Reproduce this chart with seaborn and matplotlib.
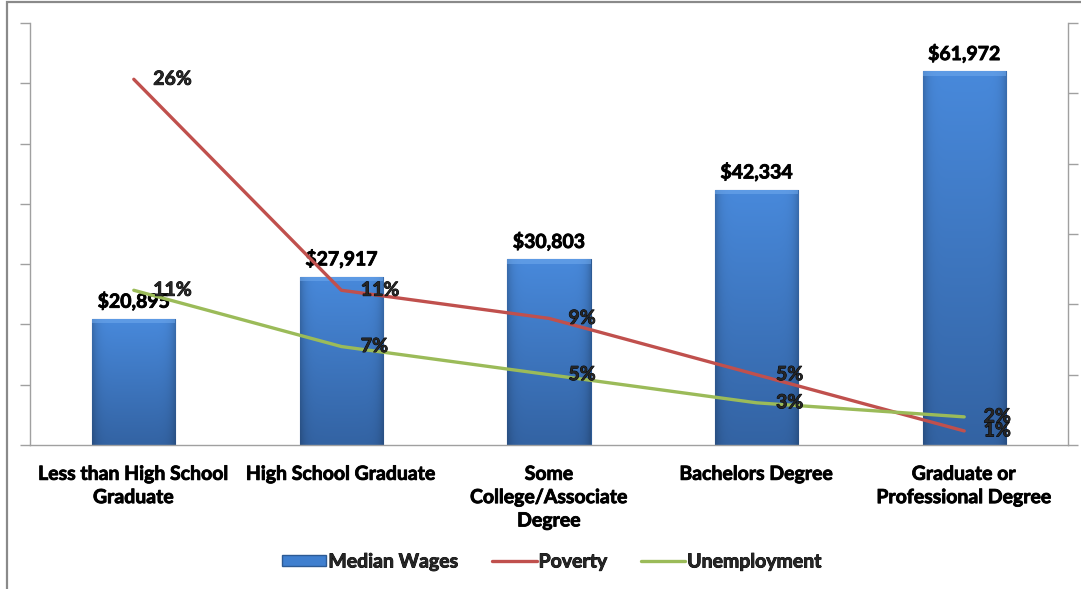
import numpy as np
import pandas as pd
import matplotlib
matplotlib.use("Agg")
import matplotlib.pyplot as plt
import seaborn as sns
from matplotlib.patches import Patch, Rectangle
from matplotlib.lines import Line2D
from matplotlib.colors import to_rgb
import matplotlib.patheffects as pe

categories = ["Less than High School\nGraduate", "High School Graduate",
              "Some\nCollege/Associate\nDegree", "Bachelors Degree",
              "Graduate or\nProfessional Degree"]
median_wages = [20895, 27917, 30803, 42334, 61972]
poverty = [26, 11, 9, 5, 1]
unemployment = [11, 7, 5, 3, 2]
wage_labels = ["$20,895", "$27,917", "$30,803", "$42,334", "$61,972"]

sns.set_theme(style="white")
plt.rcParams['font.family'] = ['Lato', 'DejaVu Sans']

FS = 14
W, H = 1081, 589
fig = plt.figure(figsize=(W / 100, H / 100), dpi=100)
ax = fig.add_axes([30 / W, (H - 445) / H, (1068 - 30) / W, (445 - 23) / H])

# slight stroke to mimic the heavier Calibri bold
thick = [pe.withStroke(linewidth=0.6, foreground="black")]

df = pd.DataFrame({"cat": categories, "wage": median_wages})
BLUE = "#3f7fcf"
RED = "#c0504d"
GREEN = "#9bbb59"
sns.barplot(data=df, x="cat", y="wage", ax=ax, color=BLUE, width=0.4,
            edgecolor="#2c5a94", linewidth=0.8, saturation=1)

# gradient fill for bars
top = np.array(to_rgb("#4889db"))
bot = np.array(to_rgb("#3363a3"))
ny, nx = 200, 60
t = np.linspace(0, 1, ny).reshape(-1, 1, 1)  # 0 bottom -> 1 top
col = bot + (top - bot) * t
xs = np.linspace(-1, 1, nx).reshape(1, -1, 1)
shade = 1 - 0.2 * np.abs(xs) ** 8
img = np.clip(col * shade, 0, 1)
for p in list(ax.patches):
    x0, y0, w, h = p.get_x(), p.get_y(), p.get_width(), p.get_height()
    im = ax.imshow(img, extent=[x0, x0 + w, y0, y0 + h], aspect="auto",
                   origin="lower", zorder=p.get_zorder() + 0.1, interpolation="bilinear")
    im.set_clip_path(p)
    ax.add_patch(Rectangle((x0, y0 + h - 700), w, 700, facecolor="#70aaee",
                           edgecolor="none", zorder=p.get_zorder() + 0.2, alpha=0.55))

ax.set_xlim(-0.5, 4.5)
ax.set_ylim(0, 70000)
ax.set_yticks(np.arange(0, 70001, 10000))
ax.set_yticklabels([])
ax.set_xticks(range(len(categories)))
ax.set_xticklabels(categories, fontsize=FS, fontweight="bold", linespacing=1.45)
for tl in ax.get_xticklabels():
    tl.set_path_effects(thick)
ax.set_xticks(np.arange(-0.5, 5, 1), minor=True)
ax.tick_params(axis="x", which="major", length=0, pad=15, colors="black")
ax.tick_params(axis="x", which="minor", length=5, width=1, color="#a0a0a0", direction="out")
ax.tick_params(axis="y", length=7, width=1, color="#a0a0a0", direction="out", left=True)
ax.set_xlabel("")
ax.set_ylabel("")
for s in ["top", "right"]:
    ax.spines[s].set_visible(False)
for s in ["left", "bottom"]:
    ax.spines[s].set_color("#a0a0a0")
    ax.spines[s].set_linewidth(1)

bl = ax.bar_label(ax.containers[0], labels=wage_labels, padding=6, fontsize=FS,
                  fontweight="bold", color="black", zorder=6)
for tx in bl:
    tx.set_path_effects(thick)

ax2 = ax.twinx()
x_pos = np.arange(len(categories))
sns.lineplot(x=x_pos, y=poverty, ax=ax2, color=RED, linewidth=2.4)
sns.lineplot(x=x_pos, y=unemployment, ax=ax2, color=GREEN, linewidth=2.4)
ax2.set_ylim(0, 30)
ax2.set_xlim(-0.5, 4.5)
ax2.set_yticks(np.arange(0, 31, 5))
ax2.set_yticklabels([])
ax2.tick_params(axis="y", length=7, width=1, color="#a0a0a0", direction="out", right=True)
for s in ["top", "left", "bottom"]:
    ax2.spines[s].set_visible(False)
ax2.spines["right"].set_color("#a0a0a0")
ax2.spines["right"].set_linewidth(1)
ax2.set_ylabel("")

for i, v in enumerate(poverty):
    ax2.annotate(f"{v}%", (i, v), xytext=(14, 0), textcoords="offset points",
                 ha="left", va="center", fontsize=FS, fontweight="bold",
                 path_effects=thick)
for i, v in enumerate(unemployment):
    ax2.annotate(f"{v}%", (i, v), xytext=(14, 0), textcoords="offset points",
                 ha="left", va="center", fontsize=FS, fontweight="bold",
                 path_effects=thick)

handles = [Patch(facecolor=BLUE, edgecolor="#2c5a94", label="Median Wages"),
           Line2D([], [], color=RED, lw=2.4, label="Poverty"),
           Line2D([], [], color=GREEN, lw=2.4, label="Unemployment")]
leg = fig.legend(handles=handles, loc="center", bbox_to_anchor=(552 / W, (H - 562) / H),
                 ncol=3, frameon=False, prop={"weight": "bold", "size": FS},
                 handlelength=2.3, handleheight=0.5, handletextpad=0.1, columnspacing=1.7)
for tx in leg.get_texts():
    tx.set_path_effects(thick)

# outer chart border (top and left visible)
fig.patches.append(Rectangle((6.5 / W, -0.05), 1.2, (H - 2) / H + 0.05, transform=fig.transFigure,
                             fill=False, edgecolor="#8a8a8a", linewidth=1.6))

fig.savefig("out.png", dpi=100)
